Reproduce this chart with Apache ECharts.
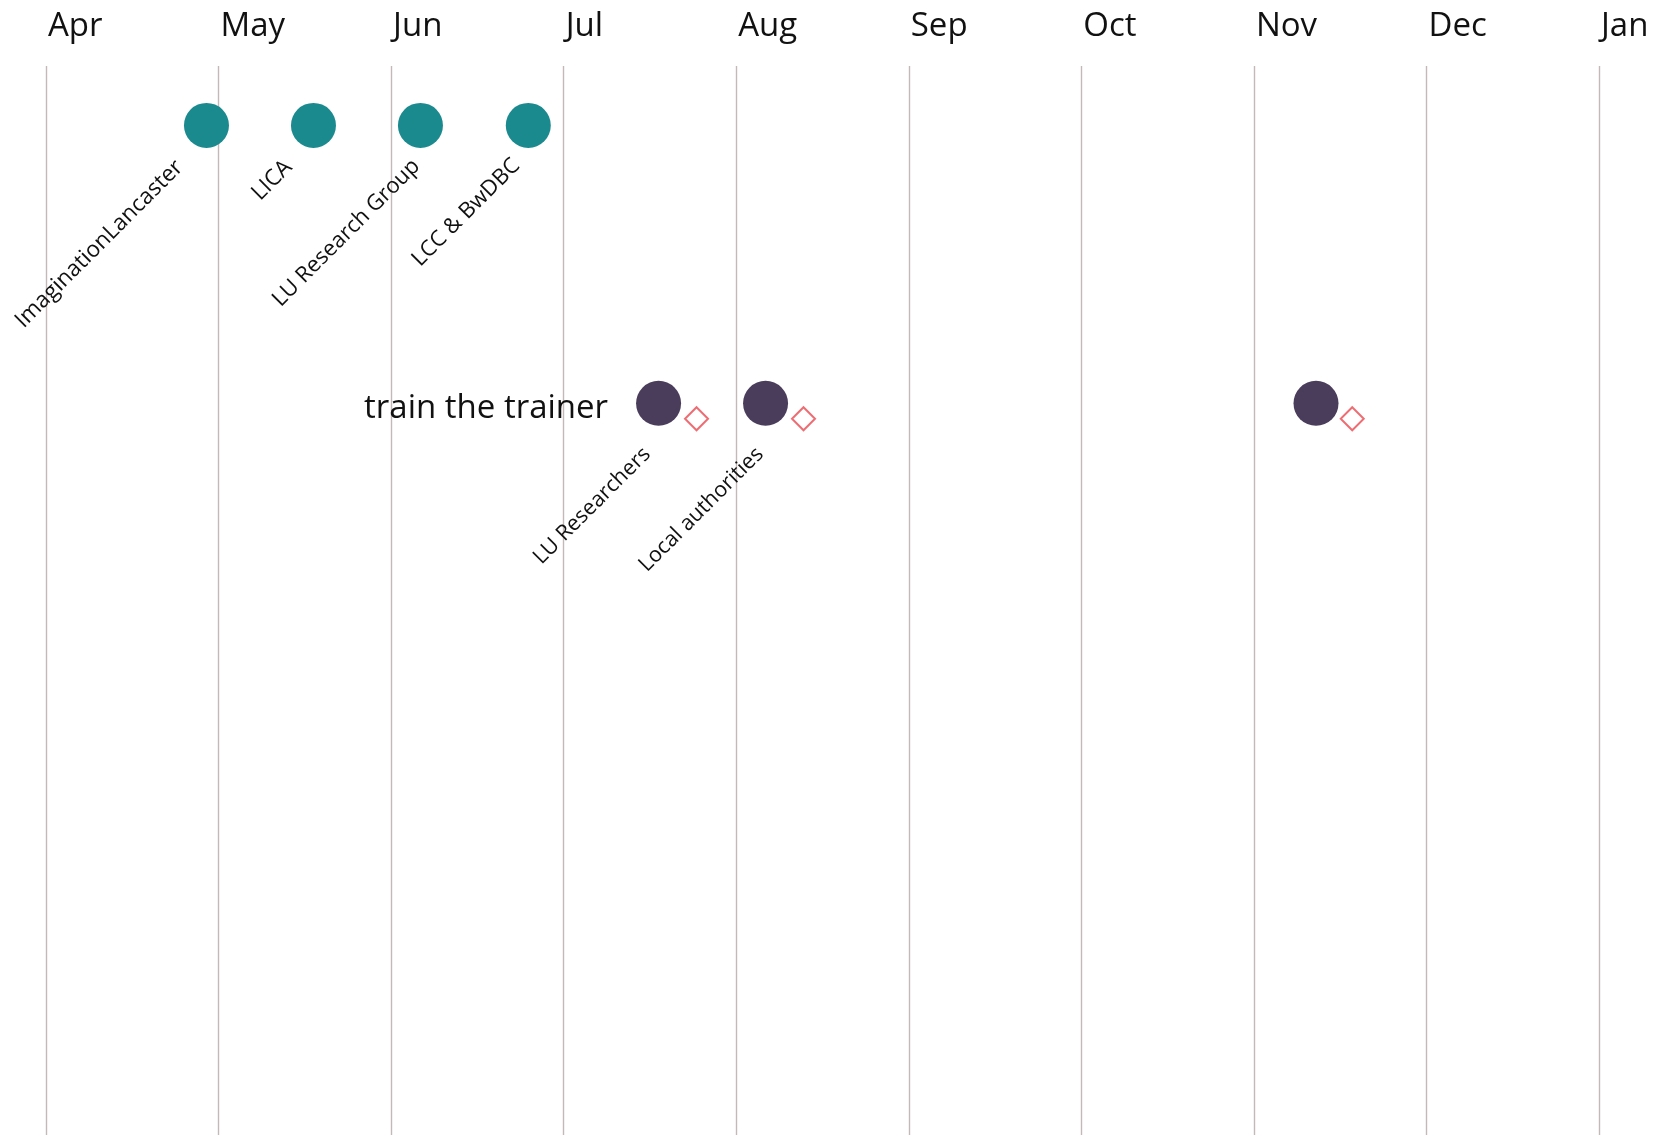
<!DOCTYPE html>
<html><head><meta charset="utf-8">
<script src="https://cdn.jsdelivr.net/npm/echarts@6/dist/echarts.min.js"></script>
<style>html,body{margin:0;padding:0;background:#fff}#c{width:1665px;height:1139px}</style>
</head><body><div id="c"></div>
<script>
// ---- data ----
const monthLabels = ['Apr','May','Jun','Jul','Aug','Sep','Oct','Nov','Dec','Jan'];
const partnerNames = ['ImaginationLancaster','LICA','LU Research Group','LCC & BwDBC'];
const partnerMonths = [0.93, 1.55, 2.17, 2.795];
const partnerRow = 1;
const trainingNames = ['LU Researchers','Local authorities',''];
const trainingMonths = [3.55, 4.17, 7.36];
const trainingRow = 5.68;
const milestoneMonths = [3.77, 4.39, 7.57];
const milestoneRow = 5.94;
const rowTitle = 'train the trainer';

// ---- style (label nudges, not data) ----
const partnerLabelPos = [[-4.5,61],[-2.5,61],[18.5,60],[10.5,59.5]];
const partnerFont = [22.5, 22.5, 22, 22];
const trainingLabelPos = [[11,70],[17,70],[11,70]];
const FONT = 'Open Sans';
const TEXT = '#111111';

const chart = echarts.init(document.getElementById('c'), null, {renderer:'canvas'});
chart.setOption({
  backgroundColor:'#ffffff',
  animation:false,
  grid:{left:46, right:66, top:66, bottom:4},
  xAxis:{
    type:'value', position:'top', min:0, max:9, interval:1,
    axisLine:{show:false}, axisTick:{show:false},
    axisLabel:{
      margin:23, align:'left', padding:[0,0,0,2],
      fontFamily:FONT, fontSize:33, color:TEXT,
      formatter:(v)=>monthLabels[Math.round(v)]
    },
    splitLine:{show:true, showMinLine:true, showMaxLine:true, lineStyle:{color:'#c4b8b8', width:1.4}}
  },
  yAxis:{type:'value', min:0, max:18, inverse:true, show:false},
  series:[
    {
      type:'scatter', symbol:'circle', symbolSize:45, z:3,
      itemStyle:{color:'#1b8a8f', opacity:1},
      data: partnerMonths.map((m,i)=>({
        value:[m, partnerRow], name:partnerNames[i],
        label:{show:true, position:partnerLabelPos[i], rotate:45, align:'right', verticalAlign:'middle',
          formatter:partnerNames[i], fontFamily:FONT, fontSize:partnerFont[i], color:TEXT}
      }))
    },
    {
      type:'scatter', symbol:'circle', symbolSize:45, z:3,
      itemStyle:{color:'#4a3d5c', opacity:1},
      data: trainingMonths.map((m,i)=>({
        value:[m, trainingRow], name:trainingNames[i],
        label:{show:trainingNames[i] !== '', position:trainingLabelPos[i], rotate:45, align:'right', verticalAlign:'middle',
          formatter:trainingNames[i], fontFamily:FONT, fontSize:21.5, color:TEXT}
      }))
    },
    {
      type:'scatter', symbolSize:45, z:5,
      itemStyle:{color:'#ffffff', opacity:0},
      silent:true,
      data:[{value:[trainingMonths[0], trainingRow], name:rowTitle}],
      label:{show:true, position:'left', distance:28, offset:[0,5], formatter:rowTitle, opacity:1,
        fontFamily:FONT, fontSize:33, color:TEXT}
    },
    {
      type:'scatter', symbol:'diamond', symbolSize:23, z:4,
      itemStyle:{color:'#ffffff', borderColor:'#e8484f', borderWidth:2},
      data: milestoneMonths.map(m=>[m, milestoneRow])
    }
  ]
});
</script>
</body></html>
